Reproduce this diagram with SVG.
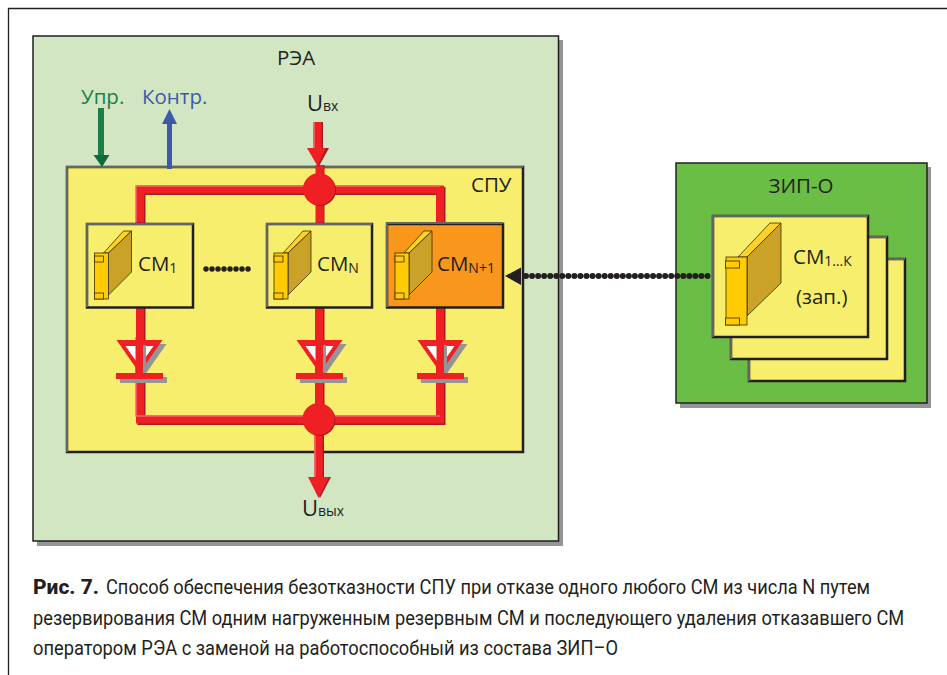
<svg xmlns="http://www.w3.org/2000/svg" width="947" height="675" viewBox="0 0 947 675">
<style>
text{font-family:"Open Sans","Noto Sans",sans-serif;fill:#231f20;font-size:20.5px}
tspan{font-size:14px}
.cap{font-family:"Roboto","Liberation Sans",sans-serif;font-size:19.5px;fill:#231f20}
.edge{fill:none;stroke:#636466;stroke-width:2}
.sh{fill:#939598}
.rd{fill:none;stroke:#ef2024;stroke-width:8}
.rdd{fill:none;stroke:#a81c22;stroke-width:8}
.rdl{fill:none;stroke:#f4666a;stroke-width:1.5}
.mf{stroke:#3c2f00;stroke-width:.8}
.card{fill:#f8ee6e;stroke:#231f20;stroke-width:2.500}
</style>
<defs>
<g id="module">
<path d="M9 0L29-22H37L14 0Z" fill="#fcd22b" class="mf"/>
<path d="M14 0L37-22V19L14 42Z" fill="#c9a227" class="mf"/>
<rect x="0" y="0" width="14" height="46" fill="#ffcb05" class="mf"/>
<rect x="0" y="3" width="9" height="6" fill="#ffcb05" class="mf"/>
<rect x="0" y="40" width="9" height="6" fill="#ffcb05" class="mf"/>
</g>
<g id="diode">
<path d="M-23 3H23L0 36Z" class="sh" transform="translate(4 4)"/>
<rect x="-19.500" y="40" width="47" height="6" class="sh"/>
<path d="M-23 3H23L0 36Z" fill="#ef2024"/>
<path d="M-14 9H14L0 29Z" fill="#fff"/>
<rect x="3" y="8" width="3.500" height="32" class="sh"/>
<rect x="-23.500" y="36" width="47" height="6" fill="#ef2024"/>
<rect x="-4" y="0" width="7.500" height="36" fill="#ef2024"/>
</g>
</defs>
<rect width="947" height="675" fill="#fff"/>
<path d="M947 8.500H8.500V675" fill="none" stroke="#231f20" stroke-width="1.300"/>

<g id="rea">
<rect x="37" y="40" width="526" height="506" class="sh"/>
<rect x="33" y="36" width="525.500" height="505" fill="#d2e6c4" stroke="#231f20" stroke-width="1.500"/>
<text x="296" y="65" text-anchor="middle">РЭА</text>
</g>

<g id="spu">
<rect x="67" y="167" width="456" height="285" fill="#f8ee6e" stroke="#231f20" stroke-width="2.500"/>
<path d="M67 452V167H523" class="edge"/>
<text x="471" y="192">СПУ</text>
</g>

<g id="labels">
<text x="81" y="104" style="fill:#1b8048">Упр.</text>
<text x="142" y="104" style="fill:#3d5aa8">Контр.</text>
<text x="307" y="111" style="font-size:22px">U<tspan>вх</tspan></text>
<text x="302" y="516" style="font-size:22px">U<tspan>вых</tspan></text>
</g>

<g id="zip">
<rect x="680" y="167" width="251" height="241" class="sh"/>
<rect x="676" y="163" width="251" height="240" fill="#6abd45" stroke="#231f20" stroke-width="1.500"/>
<text x="801" y="193" text-anchor="middle">ЗИП-О</text>
</g>

<g id="connectors">
<path d="M141.500 224V191H441.500V224M141.500 307V421H441.500V307M319 122V148M320.500 165V224M320.500 307V421M320 421V478" class="rdd"/>
<path d="M140 224V189.500H440V224M140 307V419.500H440V307M317.500 122V150M319.500 165V224M319 307V419M318.500 419V478" class="rd"/>
<path d="M136 224V186H440M136 340V416H440M314 122V148M315 480V435" class="rdl"/>
<path d="M308 148H329L318.500 167Z" fill="#a81c22"/>
<path d="M307 148H326L317.500 166Z" fill="#ef2024"/>
<path d="M309 477H331L320 498Z" fill="#a81c22"/>
<path d="M308 477H329L318.500 498Z" fill="#ef2024"/>
<circle cx="320" cy="190" r="16" fill="#a81c22"/>
<circle cx="319" cy="189" r="16" fill="#ef2024"/>
<circle cx="319.500" cy="420" r="16" fill="#a81c22"/>
<circle cx="318.500" cy="419" r="16" fill="#ef2024"/>
<path d="M101 108V155" stroke="#1b8048" stroke-width="6" fill="none"/>
<path d="M93.500 155H109.500L102 167Z" fill="#0f6b39"/>
<path d="M169.500 169V122" stroke="#3d5aa8" stroke-width="5" fill="none"/>
<path d="M162 124H177L169.500 109Z" fill="#3d5aa8"/>
<path d="M526 276H710" fill="none" stroke="#231f20" stroke-width="6" stroke-linecap="round" stroke-dasharray="0 6.050"/>
<path d="M505 276L521 267.500V285Z" fill="#231f20"/>
<path d="M206 269H254" fill="none" stroke="#231f20" stroke-width="5.500" stroke-linecap="round" stroke-dasharray="0 6"/>
</g>

<g id="d1"><use href="#diode" x="139.500" y="337"/></g>
<g id="d2"><use href="#diode" x="319.500" y="337"/></g>
<g id="d3"><use href="#diode" x="440.500" y="337"/></g>

<g id="cm1">
<rect x="87" y="224" width="106" height="83.500" class="card"/>
<path d="M87 307V224H193" class="edge"/>
<use href="#module" x="94.500" y="253"/>
<text x="138" y="271">СМ<tspan dy="2">1</tspan></text>
</g>
<g id="cmn">
<rect x="267" y="224" width="105" height="83.500" class="card"/>
<path d="M267 307V224H372" class="edge"/>
<use href="#module" x="274" y="253"/>
<text x="317" y="271">СМ<tspan dy="2">N</tspan></text>
</g>
<g id="cmn1">
<rect x="387" y="224" width="116" height="83.500" class="card" style="fill:#f9971c"/>
<path d="M387 307V223H503" class="edge"/>
<use href="#module" x="395" y="253"/>
<text x="437" y="271">СМ<tspan dy="2">N+1</tspan></text>
</g>

<g id="card3">
<rect x="749" y="259" width="156" height="122" class="card"/>
<path d="M749 381V259H905" class="edge"/>
</g>
<g id="card2">
<rect x="731" y="237" width="156" height="122" class="card"/>
<path d="M731 359V237H887" class="edge"/>
</g>
<g id="card1">
<rect x="713" y="216" width="155" height="121" class="card"/>
<path d="M713 337V216H868" class="edge"/>
<path d="M738 257L770 223H781L747 257Z" fill="#fcd22b" class="mf"/>
<path d="M747 257L781 223V283L747 316Z" fill="#c9a227" class="mf"/>
<rect x="726" y="257" width="21" height="68" fill="#ffcb05" class="mf"/>
<rect x="725.500" y="261" width="14" height="7" fill="#ffcb05" class="mf"/>
<rect x="725.500" y="318" width="14" height="7" fill="#ffcb05" class="mf"/>
<text x="793" y="264">СМ<tspan dy="2">1…К</tspan></text>
<text x="796" y="304">(зап.)</text>
</g>

<g id="caption">
<text x="33" y="594" class="cap" font-weight="800" textLength="66" lengthAdjust="spacingAndGlyphs">Рис. 7.</text>
<text transform="translate(106 594) scale(.9 1)" class="cap" textLength="849" lengthAdjust="spacingAndGlyphs">Способ обеспечения безотказности СПУ при отказе одного любого СМ из числа N путем</text>
<text transform="translate(33 625) scale(.9 1)" class="cap" textLength="968" lengthAdjust="spacingAndGlyphs">резервирования СМ одним нагруженным резервным СМ и последующего удаления отказавшего СМ</text>
<text transform="translate(33 655) scale(.9 1)" class="cap" textLength="650" lengthAdjust="spacingAndGlyphs">оператором РЭА с заменой на работоспособный из состава ЗИП–О</text>
</g>
</svg>
